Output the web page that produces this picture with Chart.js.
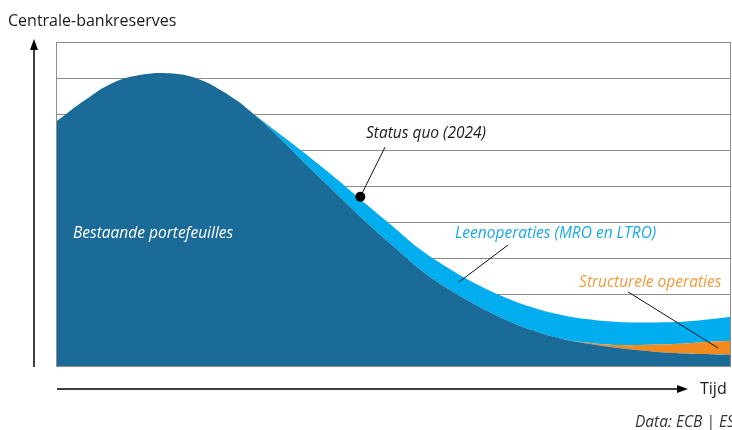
<!DOCTYPE html>
<html>
<head>
<meta charset="utf-8">
<script src="https://cdn.jsdelivr.net/npm/chart.js@4/dist/chart.umd.min.js"></script>
<style>
  html, body { margin: 0; padding: 0; background: #ffffff; }
  #wrap { width: 732px; height: 430px; }
</style>
</head>
<body>
<div id="wrap"><canvas id="chart" width="732" height="430"></canvas></div>
<script>
// time steps (no visible tick labels on the original)
const timeSteps = [0, 1, 2, 3, 4, 5, 6, 7, 8, 9, 10, 11, 12, 13, 14, 15, 16, 17, 18, 19, 20, 21, 22, 23, 24];

// stacked series (y units = grid steps)
const bestaande = [6.81, 7.39, 7.87, 8.09, 8.13, 7.98, 7.58, 7.00, 6.28, 5.50, 4.75, 4.00, 3.31, 2.64, 2.11, 1.66, 1.28, 0.97, 0.75, 0.61, 0.50, 0.42, 0.36, 0.33, 0.31];
const structureel = [0, 0, 0, 0, 0, 0, 0, 0, 0, 0, 0, 0, 0, 0, 0, 0, 0, 0, 0, 0.03, 0.08, 0.17, 0.25, 0.33, 0.39];
const leen = [0, 0, 0, 0, 0, 0, 0, 0, 0.12, 0.30, 0.42, 0.50, 0.54, 0.56, 0.58, 0.59, 0.61, 0.64, 0.66, 0.65, 0.64, 0.62, 0.61, 0.62, 0.67];

// annotations in data coordinates (x = time step index, y = value)
const statusDot = { x: 10.8, y: 4.7 };
const labelTexts = [
  { text: 'Status quo (2024)', x: 13.14, y: 6.47, color: '#1a1a1a', align: 'center' },
  { text: 'Bestaande portefeuilles', x: 0.57, y: 3.67, color: '#ffffff', align: 'left' },
  { text: 'Leenoperaties (MRO en LTRO)', x: 14.17, y: 3.67, color: '#1aa9e6', align: 'left' },
  { text: 'Structurele operaties', x: 18.59, y: 2.33, color: '#f39a3c', align: 'left' },
];
const leaderLines = [
  { x1: 11.68, y1: 6.08, x2: 10.8, y2: 4.7 },
  { x1: 16.06, y1: 3.36, x2: 14.31, y2: 2.33 },
  { x1: 20.33, y1: 2.06, x2: 23.54, y2: 0.5 },
];

const FONT = '"Open Sans", "Noto Sans", sans-serif';

const decorations = {
  id: 'decorations',
  afterDatasetsDraw(chart) {
    const { ctx, chartArea, scales } = chart;
    const px = (v) => scales.x.getPixelForValue(v);
    const py = (v) => scales.y.getPixelForValue(v);

    ctx.save();

    // plot frame
    ctx.strokeStyle = '#8c8c8c';
    ctx.lineWidth = 1;
    ctx.strokeRect(chartArea.left - 0.5, chartArea.top + 0.5, chartArea.right - chartArea.left, chartArea.bottom - chartArea.top);

    // leader lines
    ctx.strokeStyle = '#111111';
    ctx.lineWidth = 1;
    leaderLines.forEach((l) => {
      ctx.beginPath();
      ctx.moveTo(px(l.x1), py(l.y1));
      ctx.lineTo(px(l.x2), py(l.y2));
      ctx.stroke();
    });

    // status quo dot
    ctx.fillStyle = '#000000';
    ctx.beginPath();
    ctx.arc(px(statusDot.x), py(statusDot.y), 5, 0, Math.PI * 2);
    ctx.fill();

    // labels
    ctx.textBaseline = 'middle';
    labelTexts.forEach((t) => {
      ctx.font = 'italic 15.5px ' + FONT;
      ctx.fillStyle = t.color;
      ctx.textAlign = t.align;
      ctx.fillText(t.text, px(t.x), py(t.y));
    });

    // axis arrows
    const ax = chartArea.left - 23;
    const ay = chartArea.bottom + 23;
    ctx.strokeStyle = '#000000';
    ctx.fillStyle = '#000000';
    ctx.lineWidth = 1.5;
    ctx.beginPath();
    ctx.moveTo(ax, chartArea.bottom + 1);
    ctx.lineTo(ax, chartArea.top + 4);
    ctx.stroke();
    ctx.beginPath();
    ctx.moveTo(ax, chartArea.top - 3);
    ctx.lineTo(ax - 4, chartArea.top + 8);
    ctx.lineTo(ax + 4, chartArea.top + 8);
    ctx.closePath();
    ctx.fill();

    const tipX = chartArea.left + 631;
    ctx.beginPath();
    ctx.moveTo(chartArea.left, ay);
    ctx.lineTo(tipX - 6, ay);
    ctx.stroke();
    ctx.beginPath();
    ctx.moveTo(tipX, ay);
    ctx.lineTo(tipX - 11, ay - 4);
    ctx.lineTo(tipX - 11, ay + 4);
    ctx.closePath();
    ctx.fill();

    // axis texts
    ctx.font = '16px ' + FONT;
    ctx.textAlign = 'left';
    ctx.fillStyle = '#1a1a1a';
    ctx.fillText('Centrale-bankreserves', 8, 21);
    ctx.fillText('Tijd', tipX + 12, ay);

    ctx.font = 'italic 15.5px ' + FONT;
    ctx.fillStyle = '#333333';
    ctx.fillText('Data: ECB | ESRB', 635, 423);

    ctx.restore();
  },
};

const chart = new Chart(document.getElementById('chart').getContext('2d'), {
  type: 'line',
  data: {
    labels: timeSteps,
    datasets: [
      {
        label: 'Bestaande portefeuilles',
        data: bestaande,
        backgroundColor: '#1b6b99',
        borderWidth: 0,
        pointRadius: 0,
        fill: 'origin',
        tension: 0.4,
      },
      {
        label: 'Structurele operaties',
        data: structureel,
        backgroundColor: '#f28a1e',
        borderWidth: 0,
        pointRadius: 0,
        fill: '-1',
        tension: 0.4,
      },
      {
        label: 'Leenoperaties (MRO en LTRO)',
        data: leen,
        backgroundColor: '#00aeef',
        borderWidth: 0,
        pointRadius: 0,
        fill: '-1',
        tension: 0.4,
      },
    ],
  },
  options: {
    animation: false,
    responsive: false,
    layout: {
      padding: { left: 57, top: 42, right: 1, bottom: 64 },
    },
    scales: {
      x: {
        display: false,
        offset: false,
      },
      y: {
        stacked: true,
        min: 0,
        max: 9,
        ticks: { display: false, stepSize: 1 },
        border: { display: false },
        grid: { color: '#8c8c8c', lineWidth: 1, drawTicks: false },
      },
    },
    plugins: {
      legend: { display: false },
      tooltip: { enabled: false },
    },
  },
  plugins: [decorations],
});
</script>
</body>
</html>
